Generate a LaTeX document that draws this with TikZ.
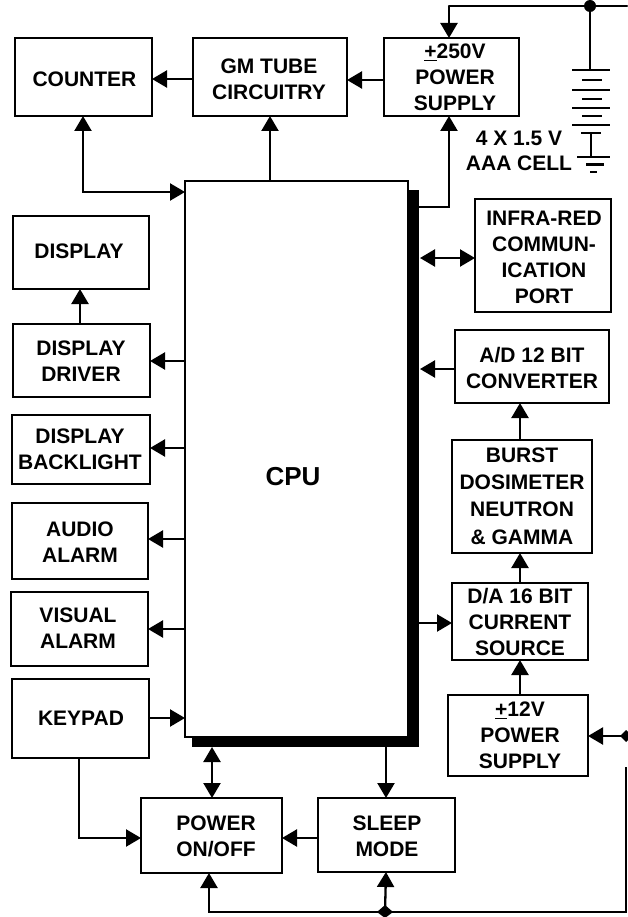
\documentclass[tikz,border=0pt]{standalone}
\usepackage{fontspec}
\setmainfont{Liberation Sans}
\usetikzlibrary{arrows.meta}
\newcommand{\pmu}{\underline{+}}
\tikzset{
  x=1pt,y=-1pt,
  blk/.style={draw=black,line width=2.2pt,fill=white,inner sep=0pt,outer sep=0pt,anchor=north west},
  txt/.style={align=center,inner sep=0pt,yshift=-1pt,font=\fontsize{21}{26}\selectfont\bfseries},
  wire/.style={draw=black,line width=2.3pt},
  ar/.style={wire,-{Triangle[length=15pt,width=17pt]}},
  arb/.style={wire,{Triangle[length=15pt,width=17pt]}-{Triangle[length=15pt,width=17pt]}},
  plate/.style={draw=black,line width=2.2pt},
}
% name, x1,y1,x2,y2, text centre x, text centre y  then text
\newcommand{\bx}[7]{\node[blk,minimum width=#4 pt-#2 pt,minimum height=#5 pt-#3 pt] (#1) at (#2,#3) {};
  \def\tname{#1t}\def\tcx{#6}\def\tcy{#7}\bxtext}
\newcommand{\bxtext}[1]{\node[txt] (\tname) at (\tcx,\tcy) {#1};}
\begin{document}
\begin{tikzpicture}
\useasboundingbox (0,0) rectangle (627,917);
% CPU shadow
\fill[black] (192,190) rectangle (419,747);
\bx{cpu}{185}{181}{408}{737}{293}{476}{\fontsize{26}{30}\selectfont CPU}
\bx{counter}{15}{38}{152}{116}{84.5}{78}{COUNTER}
\bx{gm}{193}{38}{347}{116}{269}{78}{GM TUBE\\CIRCUITRY}
\bx{hv}{384}{38}{519}{116}{455}{76.5}{\pmu250V\\POWER\\SUPPLY}
\bx{display}{13}{216}{149}{289}{79}{250}{DISPLAY}
\bx{driver}{13}{324}{150}{397}{81}{360}{DISPLAY\\DRIVER}
\bx{back}{12}{415}{150}{484}{80}{448}{DISPLAY\\BACKLIGHT}
\bx{audio}{12}{503}{148}{579}{80}{541}{AUDIO\\ALARM}
\bx{visual}{11}{592}{148}{666}{78}{627}{VISUAL\\ALARM}
\bx{keypad}{12}{679}{149}{758}{81}{717}{KEYPAD}
\bx{power}{141}{798}{282}{873}{216}{835}{POWER\\ON/OFF}
\bx{sleep}{318}{798}{455}{872}{387}{835}{SLEEP\\MODE}
\bx{lv}{448}{695}{588}{776}{520}{734.5}{\pmu12V\\POWER\\SUPPLY}
\bx{da}{452}{583}{588}{660}{520}{621}{D/A 16 BIT\\CURRENT\\SOURCE}
\bx{burst}{452}{440}{592}{553}{522}{495}{BURST\\[1.3pt]DOSIMETER\\[1.3pt]NEUTRON\\[1.3pt]\& GAMMA}
\bx{ad}{455}{330}{609}{403}{532}{367}{A/D 12 BIT\\CONVERTER}
\bx{ir}{475}{199}{611}{312}{544}{256}{INFRA-RED\\COMMUN-\\ICATION\\PORT}
\node[txt,font=\fontsize{21}{25}\selectfont\bfseries,inner sep=0pt] (cell) at (519,150) {4 X 1.5 V\\AAA CELL};
% connectors
\coordinate (top) at (627,6);
\coordinate (jb) at (590,6);
\coordinate (jtop) at (449,6);
\coordinate (cpuhv) at (419,207);
\coordinate (hvc) at (449,207);
\coordinate (dr) at (626,736);
\draw[wire,line cap=round] (top) -- (jtop);
\draw[ar] (jtop) -- (jtop |- hv.north);
\draw[ar] (cpuhv) -- (hvc) -- (hvc |- hv.south);
\draw[ar] (hv.west |- 0,80) -- (gm.east |- 0,80);
\draw[ar] (gm.west |- 0,79) -- (counter.east |- 0,79);
\draw[ar] (270,181) -- (270,116);
\draw[arb] (83,116) -- (83,192) -- (cpu.west |- 0,192);
\draw[arb] (420,258) -- (ir.west |- 0,258);
\draw[ar] (ad.west |- 0,369) -- (420,369);
\draw[ar] (520,440) -- (520,403);
\draw[ar] (520,583) -- (520,553);
\draw[ar] (419,623) -- (da.west |- 0,623);
\draw[ar] (520,695) -- (520,660);
\draw[ar] (80,324) -- (80,289);
\draw[ar] (cpu.west |- 0,361) -- (driver.east |- 0,361);
\draw[ar] (cpu.west |- 0,448) -- (back.east |- 0,448);
\draw[ar] (cpu.west |- 0,539) -- (audio.east |- 0,539);
\draw[ar] (cpu.west |- 0,629) -- (visual.east |- 0,629);
\draw[ar] (keypad.east |- 0,718) -- (cpu.west |- 0,718);
\draw[ar] (79,758) -- (79,838) -- (power.west |- 0,838);
\draw[arb] (212,747) -- (212,798);
\draw[ar] (386,747) -- (386,798);
\draw[ar] (sleep.west |- 0,838) -- (power.east |- 0,838);
\coordinate (br) at (626,912);
\coordinate (jd) at (385,912);
\draw[ar] (626,767) -- (br) -- (209,912) -- (209,873);
\draw[ar] (jd) -- (386,872);
\fill (jd) ++(-8,0) -- ++(8,-7) -- ++(8,7) -- ++(-8,6) -- cycle;
\draw[ar] (dr) -- (lv.east |- dr);
\fill (dr) ++(-6,0) -- ++(6,-6) -- ++(6,6) -- ++(-6,6) -- cycle;
% battery
\fill (jb) circle (6);
\draw[wire] (jb) -- (590,70);
\foreach \y in {70,90,108,125} \draw[plate] (572,\y) -- (610,\y);
\foreach \y in {80,99,116} \draw[plate] (582,\y) -- (602,\y);
\draw[plate] (581,133) -- (601,133);
\draw[wire] (591,133) -- (591,157);
\draw[plate] (577,157) -- (610,157);
\draw[plate] (586,164.5) -- (604,164.5);
\draw[plate] (590,172) -- (597,172);
\end{tikzpicture}
\end{document}
